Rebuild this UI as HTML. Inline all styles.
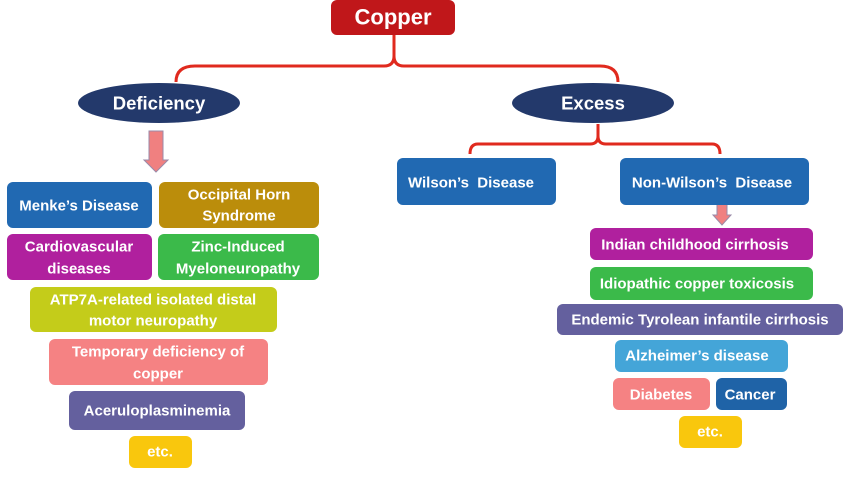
<!DOCTYPE html>
<html><head><meta charset="utf-8"><style>
html,body{margin:0;padding:0;background:#fff;}
svg text{font-family:"Liberation Sans",sans-serif;font-weight:bold;fill:#fff;text-anchor:middle;dominant-baseline:central;}
svg rect{rx:6px;ry:6px;}
</style></head><body>
<svg width="850" height="487" viewBox="0 0 850 487" xmlns="http://www.w3.org/2000/svg">
<g fill="none" stroke="#e02a1e" stroke-width="3">
<path d="M394 35 V56 Q394 66 384 66 H195 Q176 66 176 82"/>
<path d="M394 56 Q394 66 404 66 H600 Q618 66 618 82"/>
<path d="M598 124 V136 Q598 144 590 144 H478 Q470 144 470 154"/>
<path d="M598 136 Q598 144 606 144 H712 Q720 144 720 154"/>
</g>
<rect x="331" y="0" width="124" height="35" rx="5" fill="#c0171a"/>
<text x="393" y="17" font-size="22">Copper</text>
<ellipse cx="159" cy="103" rx="81" ry="20" fill="#23396b"/>
<text x="159" y="103" font-size="18.5">Deficiency</text>
<ellipse cx="593" cy="103" rx="81" ry="20" fill="#23396b"/>
<text x="593" y="103" font-size="18.5">Excess</text>
<path d="M149 131 H163 V160 H168 L156 172 L144 160 H149 Z" fill="#f08080" stroke="#9a8aa8" stroke-width="1"/>
<path d="M717 195 H727 V215 H731 L722 225 L713 215 H717 Z" fill="#f08080" stroke="#9a8aa8" stroke-width="1"/>
<g font-size="15">
<rect x="7" y="182" width="145" height="46" rx="6" fill="#2169b2"/>
<text x="79" y="206">Menke’s Disease</text>
<rect x="159" y="182" width="160" height="46" rx="6" fill="#bb8d0b"/>
<text x="239" y="195">Occipital Horn</text><text x="239" y="216">Syndrome</text>
<rect x="7" y="234" width="145" height="46" rx="6" fill="#b0209e"/>
<text x="79" y="247">Cardiovascular</text><text x="79" y="269">diseases</text>
<rect x="158" y="234" width="161" height="46" rx="6" fill="#3bba4a"/>
<text x="238" y="247">Zinc-Induced</text><text x="238" y="269">Myeloneuropathy</text>
<rect x="30" y="287" width="247" height="45" rx="6" fill="#c4cc1a"/>
<text x="153" y="300">ATP7A-related isolated distal</text><text x="153" y="321">motor neuropathy</text>
<rect x="49" y="339" width="219" height="46" rx="6" fill="#f58283"/>
<text x="158" y="352">Temporary deficiency of</text><text x="158" y="374">copper</text>
<rect x="69" y="391" width="176" height="39" rx="6" fill="#64609e"/>
<text x="157" y="411">Aceruloplasminemia</text>
<rect x="129" y="436" width="63" height="32" rx="5" fill="#f9c70d"/>
<text x="160" y="452">etc.</text>
<rect x="397" y="158" width="159" height="47" rx="6" fill="#2169b2"/>
<text x="471" y="183">Wilson’s&#160; Disease</text>
<rect x="620" y="158" width="189" height="47" rx="6" fill="#2169b2"/>
<text x="712" y="183">Non-Wilson’s&#160; Disease</text>
<rect x="590" y="228" width="223" height="32" rx="5" fill="#b0209e"/>
<text x="695" y="245">Indian childhood cirrhosis</text>
<rect x="590" y="267" width="223" height="33" rx="5" fill="#3bba4a"/>
<text x="697" y="284">Idiopathic copper toxicosis</text>
<rect x="557" y="304" width="286" height="31" rx="5" fill="#64609e"/>
<text x="700" y="320">Endemic Tyrolean infantile cirrhosis</text>
<rect x="615" y="340" width="173" height="32" rx="5" fill="#44a5d8"/>
<text x="697" y="356">Alzheimer’s disease</text>
<rect x="613" y="378" width="97" height="32" rx="5" fill="#f58283"/>
<text x="661" y="395">Diabetes</text>
<rect x="716" y="378" width="71" height="32" rx="5" fill="#1f63a7"/>
<text x="750" y="395">Cancer</text>
<rect x="679" y="416" width="63" height="32" rx="5" fill="#f9c70d"/>
<text x="710" y="432">etc.</text>
</g>
</svg>
</body></html>
